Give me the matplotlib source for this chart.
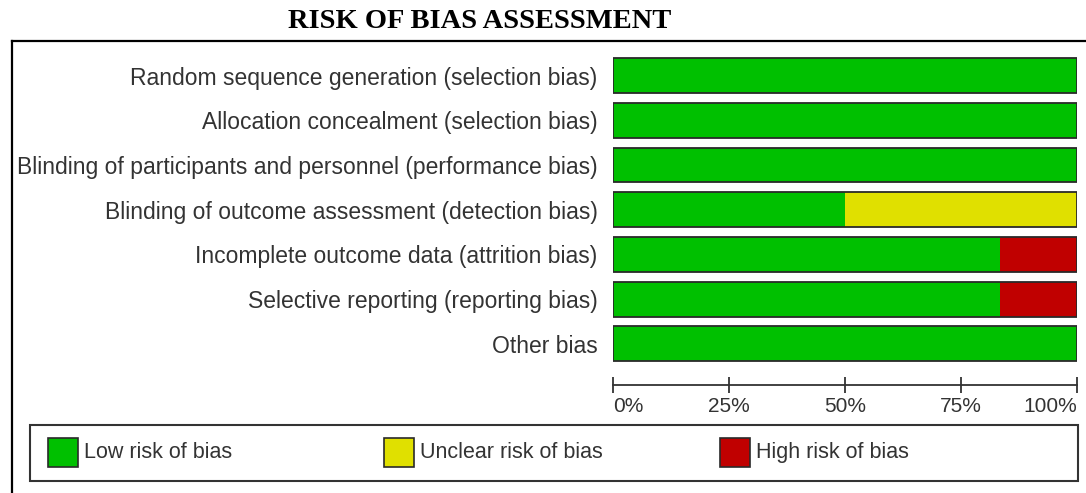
import matplotlib
matplotlib.use("Agg")
import matplotlib.pyplot as plt
from matplotlib.patches import Rectangle
from matplotlib.lines import Line2D

plt.rcParams["font.family"] = ["Liberation Sans", "DejaVu Sans"]

domains = [
    "Random sequence generation (selection bias)",
    "Allocation concealment (selection bias)",
    "Blinding of participants and personnel (performance bias)",
    "Blinding of outcome assessment (detection bias)",
    "Incomplete outcome data (attrition bias)",
    "Selective reporting (reporting bias)",
    "Other bias",
]
low = [100, 100, 100, 50, 83.3, 83.3, 100]
unclear = [0, 0, 0, 50, 0, 0, 0]
high = [0, 0, 0, 0, 16.7, 16.7, 0]
categories = ["Low risk of bias", "Unclear risk of bias", "High risk of bias"]
colors = ["#00c000", "#e0e000", "#c00000"]
ticks = [0, 25, 50, 75, 100]
tick_labels = ["0%", "25%", "50%", "75%", "100%"]

INK = "#333333"
EDGE = "#2a2a2a"
W, H = 1086, 493


def fx(x):
    return x / W


def fy(y):
    return 1 - y / H


fig = plt.figure(figsize=(W / 100, H / 100), dpi=100)
fig.patch.set_facecolor("white")

# bar area, in pixel terms 613..1077 wide, rows centred 75.5 .. 344
top, bottom = 53.2, 366.3
ax = fig.add_axes([fx(613), fy(bottom), fx(1077) - fx(613), (bottom - top) / H])

rows = list(range(len(domains)))
series = [low, unclear, high]
lefts = [0.0] * len(domains)
for values, color in zip(series, colors):
    ax.barh(rows, values, left=lefts, height=0.78, color=color, edgecolor="none")
    lefts = [a + b for a, b in zip(lefts, values)]
ax.barh(rows, lefts, height=0.78, fill=False, edgecolor=EDGE, linewidth=1.3)

for side in ["top", "right", "left"]:
    ax.spines[side].set_visible(False)
ax.spines["bottom"].set_position(("outward", 13.4))
ax.spines["bottom"].set_color(INK)
ax.spines["bottom"].set_linewidth(1.3)
ax.patch.set_alpha(0)

ax.set_xlim(0, 100)
ax.set_ylim(-0.5, len(domains) - 0.5)
ax.invert_yaxis()
ax.set_yticks(rows, domains)
ax.tick_params(axis="y", length=0, pad=11, labelsize=16.5, labelcolor=INK)

ax.set_xticks(ticks, tick_labels)
ax.tick_params(axis="x", direction="inout", length=11, width=1.3, color=INK,
               labelsize=15, labelcolor=INK, pad=3)
major = ax.xaxis.get_major_ticks()
major[0].label1.set_horizontalalignment("left")
major[-1].label1.set_horizontalalignment("right")

# title and outer frame
fig.text(fx(480), fy(21), "RISK OF BIAS ASSESSMENT", ha="center", va="center",
         family="Liberation Serif", fontweight="bold", fontsize=20.5, color="black")
fig.add_artist(Line2D([fx(12), 1.0], [fy(41), fy(41)], color="black", linewidth=1.6,
                      transform=fig.transFigure))
fig.add_artist(Line2D([fx(12), fx(12)], [fy(41), 0.0], color="black", linewidth=1.6,
                      transform=fig.transFigure))

# legend box
fig.add_artist(Rectangle((fx(30), fy(481)), fx(1078) - fx(30), (481 - 425) / H,
                         fill=False, edgecolor=INK, linewidth=1.5, transform=fig.transFigure))
for x0, label, color in zip([48, 384, 720], categories, colors):
    fig.add_artist(Rectangle((fx(x0), fy(467)), 30 / W, 29 / H, facecolor=color,
                             edgecolor=EDGE, linewidth=1.2, transform=fig.transFigure))
    fig.text(fx(x0 + 36), fy(452.5), label, ha="left", va="center", fontsize=15.5, color=INK)

fig.savefig("out.png", dpi=100, facecolor="white")
